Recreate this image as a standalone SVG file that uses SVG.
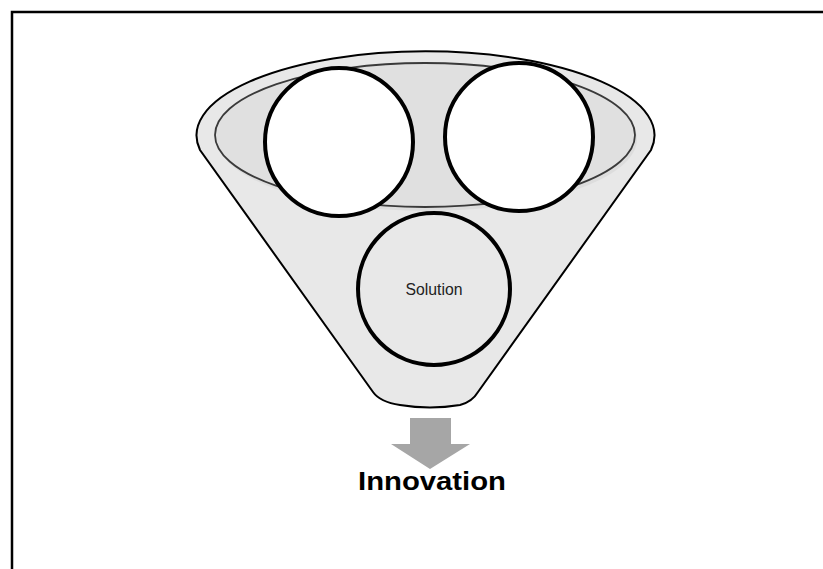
<svg xmlns="http://www.w3.org/2000/svg" width="823" height="569" viewBox="0 0 823 569">
<style>
.frame{fill:none;stroke:#000;stroke-width:2.5}
.funnel{fill:#e8e8e8;stroke:#000;stroke-width:2}
.rim{fill:#e0e0e0;stroke:#3a3a3a;stroke-width:1.8}
.circ{stroke:#000;stroke-width:4}
.lbl{font-family:"Liberation Sans",Arial,sans-serif;fill:#222}
</style>
<rect width="823" height="569" fill="#fff"/>
<path class="frame" d="M12,569 L12,12 L823,12"/>
<g id="funnel">
<path class="funnel" d="M200,150 A229,84 0 1,1 651,150 L478,392 Q472,402 460,405 Q430,410 400,405 Q380,402 373,392 Z"/>
<ellipse cx="427" cy="139" rx="210" ry="72" fill="#d6d6d6" opacity="0.6"/>
<ellipse class="rim" cx="425" cy="135" rx="210" ry="72"/>
</g>
<g id="circle-left"><circle class="circ" cx="339" cy="142" r="74" fill="#fff"/></g>
<g id="circle-right"><circle class="circ" cx="519" cy="137" r="74" fill="#fff"/></g>
<g id="circle-solution">
<circle class="circ" cx="434" cy="289" r="76" fill="none"/>
<text class="lbl" x="434" y="295" font-size="16" text-anchor="middle" textLength="57" lengthAdjust="spacingAndGlyphs">Solution</text>
</g>
<g id="connectors">
<path d="M410,418 L451,418 L451,444 L470,444 L430,469 L391,444 L410,444 Z" fill="#a6a6a6"/>
</g>
<g id="innovation">
<text class="lbl" x="432" y="490" font-size="25" font-weight="bold" text-anchor="middle" textLength="148" lengthAdjust="spacingAndGlyphs" style="fill:#000">Innovation</text>
</g>
</svg>
